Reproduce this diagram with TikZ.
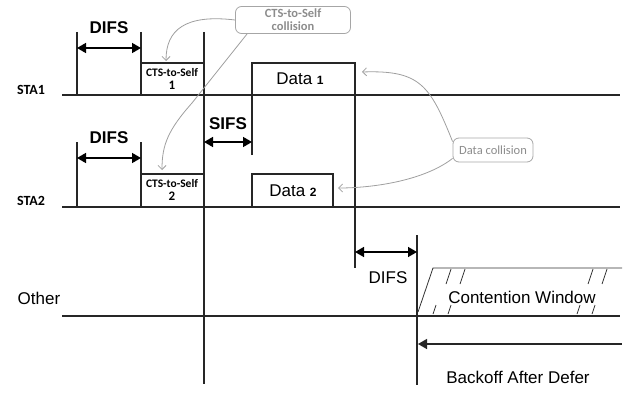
\documentclass[tikz,border=0pt]{standalone}
\usepackage{fontspec}
\setmainfont{Liberation Sans}
\newfontfamily\carlito{Carlito}
\usetikzlibrary{arrows.meta}

\begin{document}
\begin{tikzpicture}[x=1pt,y=-1pt,
  axis/.style={line width=1.6pt,draw=black!85},
  thinaxis/.style={line width=1.2pt,draw=black!85},
  span/.style={line width=1.6pt,{Triangle[length=9pt,width=10pt]}-{Triangle[length=9pt,width=10pt]}},
  lbl/.style={font=\fontsize{17}{18}\selectfont,inner sep=0pt},
  sta/.style={font=\carlito\bfseries\fontsize{14}{14}\selectfont,inner sep=0pt},
  cts/.style={font=\carlito\bfseries\fontsize{11.5}{13}\selectfont,align=center,inner sep=0pt},
  note/.style={draw=gray!70,rounded corners=6pt,line width=0.8pt,text=gray!90,align=center,inner sep=0pt},
  pointer/.style={draw=gray!75,line width=0.8pt,-{Straight Barb[length=4pt,width=8pt]}}]
\useasboundingbox (0,0) rectangle (632,396);

% labels of the stations
\node[sta] (sta1) at (31,90) {STA1};
\node[sta] (sta2) at (31,201) {STA2};
\node[lbl] (other) at (39,298) {Other};

% time lines
\draw[axis] (62,95) -- (620,95);
\draw[axis] (62,207) -- (620,207);
\draw[thinaxis] (62,316) -- (620,316);

% DIFS before CTS-to-Self
\draw[axis] (77,32) -- (77,95) (141,32) -- (141,95);
\draw[span] (77,48) -- (141,48);
\node[lbl,font=\bfseries\fontsize{17}{18}\selectfont] (difs1) at (109,28) {DIFS};
\draw[axis] (77,142) -- (77,207) (141,142) -- (141,207);
\draw[span] (77,158) -- (141,158);
\node[lbl,font=\bfseries\fontsize{17}{18}\selectfont] (difs2) at (109,138) {DIFS};

% CTS-to-Self frames
\draw[axis] (141,63) -- (204,63);
\node[cts] (cts1) at (172,79) {CTS-to-Self\\{\fontsize{13}{13}\selectfont 1}};
\draw[axis] (141,174) -- (204,174);
\node[cts] (cts2) at (172,190) {CTS-to-Self\\{\fontsize{13}{13}\selectfont 2}};
\draw[axis] (204,32) -- (204,384);

% SIFS and data frames
\draw[axis] (252,155) -- (252,63) -- (355,63) -- (355,268);
\draw[span] (204,142) -- (252,142);
\node[lbl,font=\bfseries\fontsize{17}{18}\selectfont] (sifs) at (228,124) {SIFS};
\node[lbl] (data1) at (300,79) {Data {\fontsize{12}{12}\selectfont\bfseries 1}};
\draw[axis] (252,207) -- (252,174) -- (333,174) -- (333,207);
\node[lbl] (data2) at (293,191) {Data {\fontsize{12}{12}\selectfont\bfseries 2}};

% DIFS, contention window and backoff of the other station
\draw[thinaxis] (417,235) -- (417,385);
\draw[line width=1.4pt,{Triangle[length=9pt,width=10pt]}-{Triangle[length=9pt,width=10pt]}] (355,252) -- (417,252);
\node[lbl] (difs3) at (388,278) {DIFS};
\draw[line width=0.8pt,draw=black!80] (418,312) -- (433,268) -- (622,268);
\draw[line width=0.8pt,draw=black!80]
  (446,284) -- (451,269) (460,284) -- (465,269)
  (588,284) -- (593,269) (602,284) -- (607,269)
  (433,314) -- (436,305) (448,314) -- (451,305)
  (577,314) -- (580,305) (592,314) -- (595,305);
\node[lbl] (cw) at (522,297) {Contention Window};
\draw[line width=1.4pt,draw=black!85,{Triangle[length=9pt,width=10pt]}-] (418,344) -- (622,344);
\node[lbl] (backoff) at (518,377) {Backoff After Defer};

% collision notes
\node[note,minimum width=115pt,minimum height=27pt,
  font=\carlito\bfseries\fontsize{12.5}{13}\selectfont] (ctsnote) at (293,20) {CTS-to-Self\\collision};
\node[note,minimum width=80pt,minimum height=24pt,
  font=\carlito\fontsize{12.5}{13}\selectfont] (datanote) at (493,150) {Data collision};
\coordinate (cts1top) at (166,61);
\coordinate (cts2top) at (162,170);
\coordinate (data1end) at (362,72);
\coordinate (data2end) at (338,188);
\draw[pointer] (ctsnote.west) .. controls (185,14) and (166,30) .. (cts1top);
\draw[pointer] ([xshift=12pt]ctsnote.south west) -- (192,103) .. controls (168,130) and (162,145) .. (cts2top);
\draw[pointer] ([yshift=-4pt]datanote.north west) .. controls (430,85) and (420,70) .. (data1end);
\draw[pointer] ([yshift=4pt]datanote.south west) .. controls (425,180) and (375,188) .. (data2end);
\end{tikzpicture}
\end{document}
